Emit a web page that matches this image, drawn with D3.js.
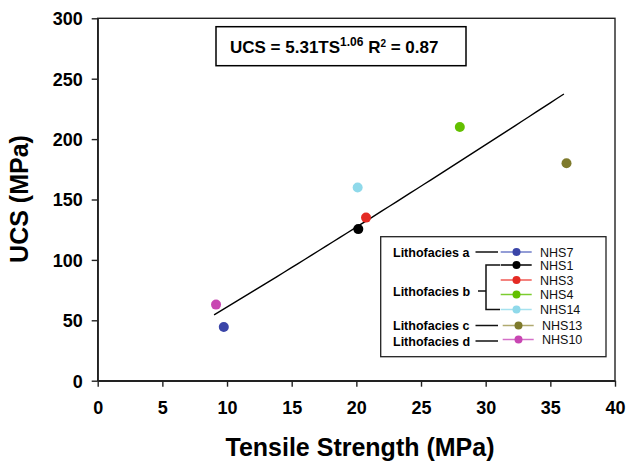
<!DOCTYPE html>
<html><head><meta charset="utf-8">
<script src="https://cdn.jsdelivr.net/npm/d3@7"></script>
<style>body{margin:0;background:#fff}svg{display:block}text{font-family:"Liberation Sans",Arial,sans-serif}</style>
</head><body><svg id="c" width="627" height="463"></svg>
<script>
const samples = ["NHS7","NHS1","NHS3","NHS4","NHS14","NHS13","NHS10"];
const tensile = [9.75, 20.15, 20.75, 28.0, 20.1, 36.25, 9.15];
const ucs = [44.5, 125.5, 135, 210, 160, 180, 63];
const colors = ["#3a45a8","#000000","#e42a24","#63c000","#8fd9ea","#7e7a2c","#c846b2"];
const lineColors = ["#6f7cc8","#000000","#f05a55","#7ccc30","#a6e2ef","#b0aa70","#d470c8"];
const xTicks = [0,5,10,15,20,25,30,35,40];
const yTicks = [0,50,100,150,200,250,300];
const fitA = 5.31, fitB = 1.06, fitRange = [9.0, 36.05];
const facies = [
  {label:"Lithofacies a", members:["NHS7"]},
  {label:"Lithofacies b", members:["NHS1","NHS3","NHS4","NHS14"]},
  {label:"Lithofacies c", members:["NHS13"]},
  {label:"Lithofacies d", members:["NHS10"]}
];

const svg = d3.select("#c");
const L = 97.7, R = 615, T = 18.3, B = 380.7;
const x = d3.scaleLinear().domain([0,40]).range([L,R]);
const y = d3.scaleLinear().domain([0,300]).range([B,T]);
const axisCol = "#222";

// frame
svg.append("rect").attr("x",L).attr("y",T).attr("width",R-L).attr("height",B-T)
  .attr("fill","none").attr("stroke",axisCol).attr("stroke-width",1.4);

const xa = svg.append("g").attr("transform",`translate(0,${B})`)
  .call(d3.axisBottom(x).tickValues(xTicks).tickSizeOuter(0).tickSizeInner(6).tickPadding(14.5));
const ya = svg.append("g").attr("transform",`translate(${L},0)`)
  .call(d3.axisLeft(y).tickValues(yTicks).tickSizeOuter(0).tickSizeInner(6).tickPadding(9));
[xa,ya].forEach(g=>{
  g.select(".domain").attr("stroke",axisCol).attr("stroke-width",1.4);
  g.selectAll(".tick line").attr("stroke",axisCol).attr("stroke-width",1.4);
  g.selectAll(".tick text").attr("font-size",18).attr("font-weight","bold").attr("fill","#000")
   .attr("font-family",'"Liberation Sans",Arial,sans-serif');
});
ya.selectAll(".tick text").attr("dy","0.36em");

// axis titles
svg.append("text").attr("x",360).attr("y",456).attr("text-anchor","middle")
  .attr("font-size",25).attr("font-weight","bold").text("Tensile Strength (MPa)");
svg.append("text").attr("transform","translate(28,199) rotate(-90)").attr("text-anchor","middle")
  .attr("font-size",25).attr("font-weight","bold").text("UCS (MPa)");

// fit line
const fitPts = d3.range(0,51).map(i=>{const t=fitRange[0]+(fitRange[1]-fitRange[0])*i/50;return [t,fitA*Math.pow(t,fitB)];});
svg.append("path").datum(fitPts).attr("fill","none").attr("stroke","#000").attr("stroke-width",1.4)
  .attr("d",d3.line().x(d=>x(d[0])).y(d=>y(d[1])));

// points
svg.selectAll("circle.pt").data(samples).join("circle").attr("class","pt")
  .attr("cx",(d,i)=>x(tensile[i])).attr("cy",(d,i)=>y(ucs[i])).attr("r",5)
  .attr("fill",(d,i)=>colors[i]);

// equation box
svg.append("rect").attr("x",216).attr("y",26.7).attr("width",250).attr("height",39)
  .attr("fill","#fff").attr("stroke","#000").attr("stroke-width",1.5);
const eq = svg.append("text").attr("x",230).attr("y",52.5).attr("font-size",17).attr("font-weight","bold");
eq.append("tspan").text("UCS = " + fitA.toFixed(2) + "TS");
eq.append("tspan").attr("font-size",12).attr("dy",-7).text(fitB.toFixed(2));
eq.append("tspan").attr("dy",7).text(" R");
eq.append("tspan").attr("font-size",10).attr("dy",-6).text("2");
eq.append("tspan").attr("dy",6).text(" = 0.87");

// legend
svg.append("rect").attr("x",380.7).attr("y",236.7).attr("width",225.3).attr("height",120)
  .attr("fill","#fff").attr("stroke","#222").attr("stroke-width",1.3);
const rowY = [252,265,280,294.5,309.5,325.5,339.5];
const lg = svg.append("g");
samples.forEach((s,i)=>{
  const shift = i>=5 ? 2 : 0;
  const x0 = 500.7+shift, x1 = 531.7+shift, xm = 516.5+shift;
  lg.append("line").attr("x1",x0).attr("x2",x1).attr("y1",rowY[i]).attr("y2",rowY[i])
    .attr("stroke",lineColors[i]).attr("stroke-width",1.5);
  lg.append("circle").attr("cx",xm).attr("cy",rowY[i]).attr("r",4).attr("fill",colors[i]);
  lg.append("text").attr("x",540+shift).attr("y",rowY[i]+4.5).attr("font-size",12.5).attr("fill","#111").text(s);
});
const facY = {"Lithofacies a":252,"Lithofacies b":291,"Lithofacies c":325.5,"Lithofacies d":341};
facies.forEach(f=>{
  const fy = facY[f.label];
  lg.append("text").attr("x",393).attr("y",fy+4.5).attr("font-size",12.5).attr("font-weight","bold").text(f.label);
  if (f.members.length===1){
    lg.append("line").attr("x1",475.5).attr("x2",498).attr("y1",fy).attr("y2",fy)
      .attr("stroke","#111").attr("stroke-width",1.5);
  } else {
    const idx = f.members.map(m=>samples.indexOf(m));
    const yTop = rowY[d3.min(idx)], yBot = rowY[d3.max(idx)];
    lg.append("line").attr("x1",478).attr("x2",486).attr("y1",fy).attr("y2",fy).attr("stroke","#111").attr("stroke-width",1.5);
    lg.append("path").attr("d",`M500,${yTop}H486V${yBot}H500`).attr("fill","none").attr("stroke","#111").attr("stroke-width",1.5);
  }
});
</script></body></html>
